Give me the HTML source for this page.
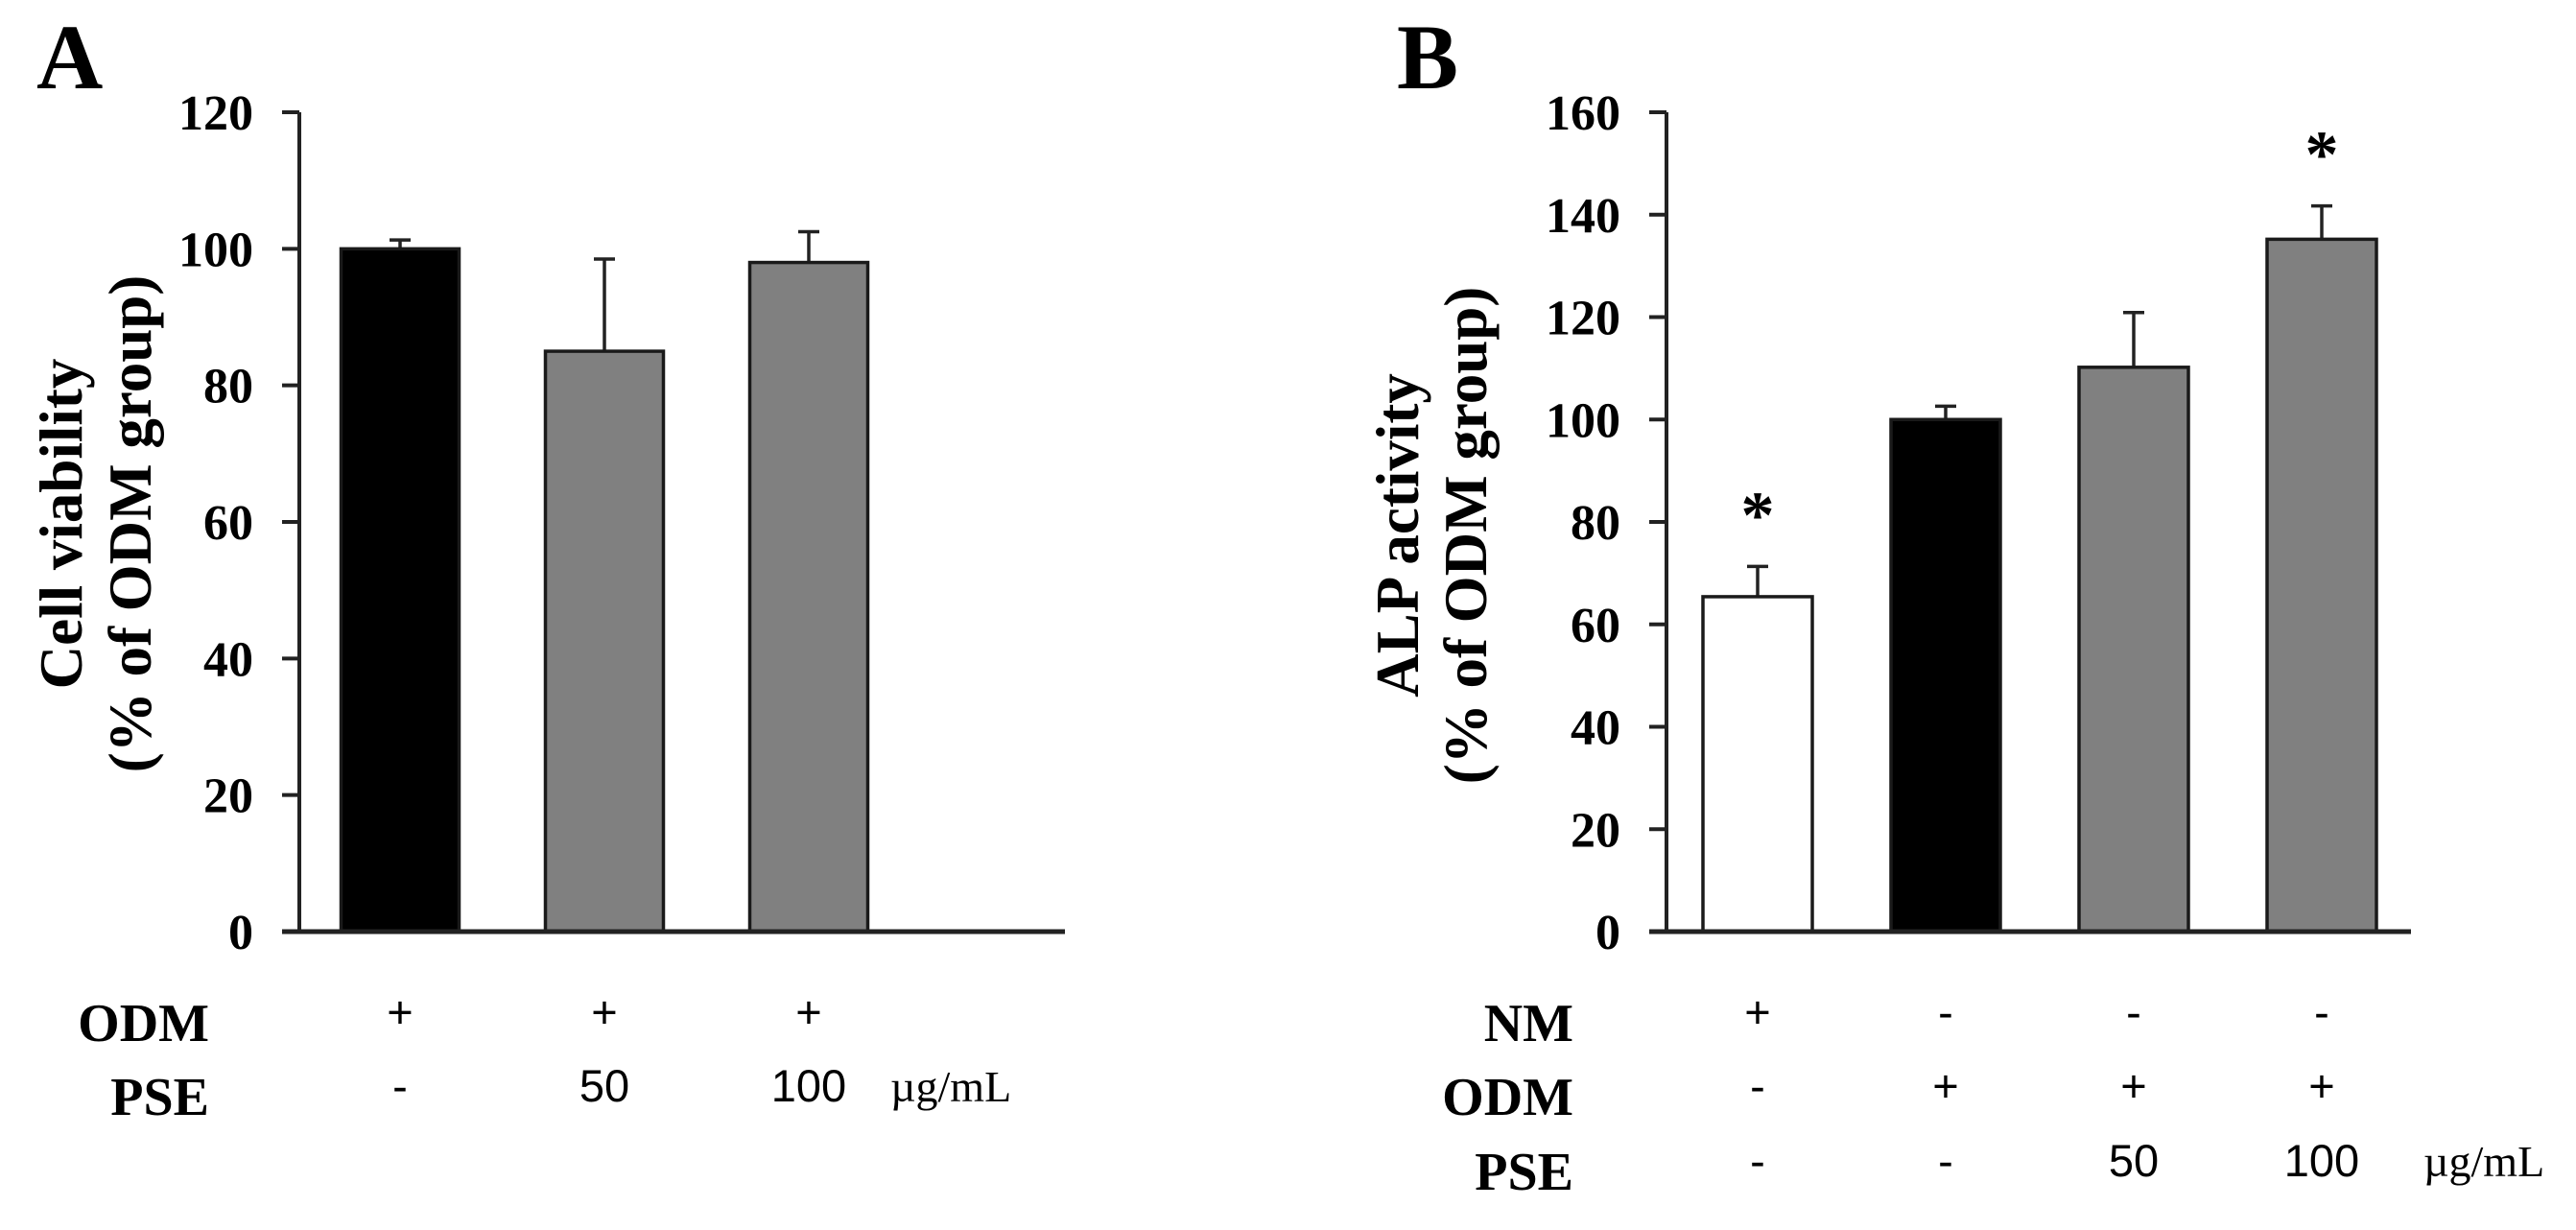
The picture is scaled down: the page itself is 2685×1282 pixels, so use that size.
<!DOCTYPE html>
<html><head><meta charset="utf-8"><style>
html,body{margin:0;padding:0;background:#fff;}
svg{display:block;}
.serif{font-family:"Liberation Serif",serif;font-weight:bold;}
.sans{font-family:"Liberation Sans",sans-serif;}
</style></head><body>
<svg id="fig" width="2685" height="1282" viewBox="0 0 2685 1282" xmlns="http://www.w3.org/2000/svg">
<text class="serif" x="38" y="92" font-size="96">A</text>
<text class="serif" x="1456" y="92" font-size="96">B</text>
<g id="chartA"></g>
<g id="chartB"></g>
</svg>
<script>
// Panel A data
const catsA = ["ODM", "ODM+PSE50", "ODM+PSE100"];
const valuesA = [100, 85, 98];
const errorsA = [1.3, 13.5, 4.5];
const colorsA = ["#000000", "#808080", "#808080"];
const ticksA = [0, 20, 40, 60, 80, 100, 120];
// Panel B data
const catsB = ["NM", "ODM", "ODM+PSE50", "ODM+PSE100"];
const valuesB = [65.4, 100, 110.2, 135.2];
const errorsB = [5.9, 2.6, 10.7, 6.5];
const colorsB = ["#ffffff", "#000000", "#808080", "#808080"];
const starsB = [true, false, false, true];
const ticksB = [0, 20, 40, 60, 80, 100, 120, 140, 160];

const NS = "http://www.w3.org/2000/svg";
function mk(tag, attrs, parent, text) {
  const e = document.createElementNS(NS, tag);
  for (const k in attrs) e.setAttribute(k, attrs[k]);
  if (text !== undefined) e.textContent = text;
  parent.appendChild(e);
  return e;
}

function drawChart(g, cfg) {
  const y = v => cfg.y0 - (v - 0) / cfg.ymax * (cfg.y0 - cfg.ytop);
  const x = i => cfg.x0 + i * cfg.step;
  let ax = mk("line", {x1: cfg.ax, y1: y(cfg.ymax), x2: cfg.ax, y2: y(0), stroke: "#222", "stroke-width": 4}, g);
  
  
  cfg.ticks.forEach(t => {
    const tk = mk("line", {x1: cfg.ax - 18, y1: y(t), x2: cfg.ax, y2: y(t), stroke: "#222", "stroke-width": 4}, g);
    
    
    const tl = mk("text", {x: cfg.ax - 48, y: y(t) + 18, "text-anchor": "end", "font-size": 52, class: "serif"}, g, String(t));
    
    
  });
  cfg.values.forEach((v, i) => {
    const cx = x(i);
    const eb = mk("line", {x1: cx, y1: y(v), x2: cx, y2: y(v + cfg.errors[i]), stroke: "#222", "stroke-width": 3.5}, g);
    
    
    const cap = mk("line", {x1: cx - 11, y1: y(v + cfg.errors[i]), x2: cx + 11, y2: y(v + cfg.errors[i]), stroke: "#222", "stroke-width": 3.5}, g);
    
    
    const r = mk("rect", {x: cx - cfg.bw / 2, y: y(v), width: cfg.bw, height: y(0) - y(v), fill: cfg.colors[i], stroke: "#1a1a1a", "stroke-width": 3.5}, g);
    
    
    if (cfg.stars && cfg.stars[i]) {
      const s = mk("text", {x: cx, y: y(v + cfg.errors[i]) - 30, "text-anchor": "middle", "font-size": 70, class: "serif"}, g, "*");
      
      
    }
  });
  const xa = mk("line", {x1: cfg.ax - 18, y1: y(0), x2: cfg.xend, y2: y(0), stroke: "#222", "stroke-width": 5}, g);
  
  
  const t1 = mk("text", {x: 0, y: 0, transform: `translate(${cfg.t1x},${cfg.tcy}) rotate(-90)`, "text-anchor": "middle", "dominant-baseline": "central", "font-size": 63, class: "serif"}, g, cfg.title1);
  
  
  const t2 = mk("text", {x: 0, y: 0, transform: `translate(${cfg.t2x},${cfg.tcy}) rotate(-90)`, "text-anchor": "middle", "dominant-baseline": "central", "font-size": 63, class: "serif"}, g, cfg.title2);
  
  
  cfg.rows.forEach((row, ri) => {
    const lb = mk("text", {x: cfg.labelRight, y: cfg.rowBase[ri], "text-anchor": "end", "font-size": 56, class: "serif"}, g, row.name);
    
    
    row.marks.forEach((m, i) => {
      const t = mk("text", {x: x(i), y: cfg.rowBase[ri] - 14, "text-anchor": "middle", "font-size": 47, class: "sans"}, g, m);
      
      
    });
  });
  const u = mk("text", {x: cfg.unitX, y: cfg.rowBase[cfg.rows.length - 1] - 14, "font-size": 46, "font-family": "Liberation Serif, serif"}, g, "µg/mL");
  
  
}

drawChart(document.getElementById("chartA"), {
  cats: catsA, values: valuesA, errors: errorsA, colors: colorsA, ticks: ticksA,
  ymax: 120, y0: 971, ytop: 117, ax: 312, x0: 417, step: 213, bw: 123, xend: 1110,
  title1: "Cell viability", title2: "(% of ODM group)", t1x: 64, t2x: 136, tcy: 546,
  rows: [{name: "ODM", marks: ["+", "+", "+"]}, {name: "PSE", marks: ["-", "50", "100"]}],
  rowBase: [1085, 1162], labelRight: 218, unitX: 928
});
drawChart(document.getElementById("chartB"), {
  cats: catsB, values: valuesB, errors: errorsB, colors: colorsB, ticks: ticksB, stars: starsB,
  ymax: 160, y0: 971, ytop: 117, ax: 1737, x0: 1832, step: 196, bw: 114, xend: 2513,
  title1: "ALP activity", title2: "(% of ODM group)", t1x: 1457, t2x: 1528, tcy: 558,
  rows: [{name: "NM", marks: ["+", "-", "-", "-"]}, {name: "ODM", marks: ["-", "+", "+", "+"]}, {name: "PSE", marks: ["-", "-", "50", "100"]}],
  rowBase: [1085, 1162, 1240], labelRight: 1640, unitX: 2526
});
</script>
</body></html>
